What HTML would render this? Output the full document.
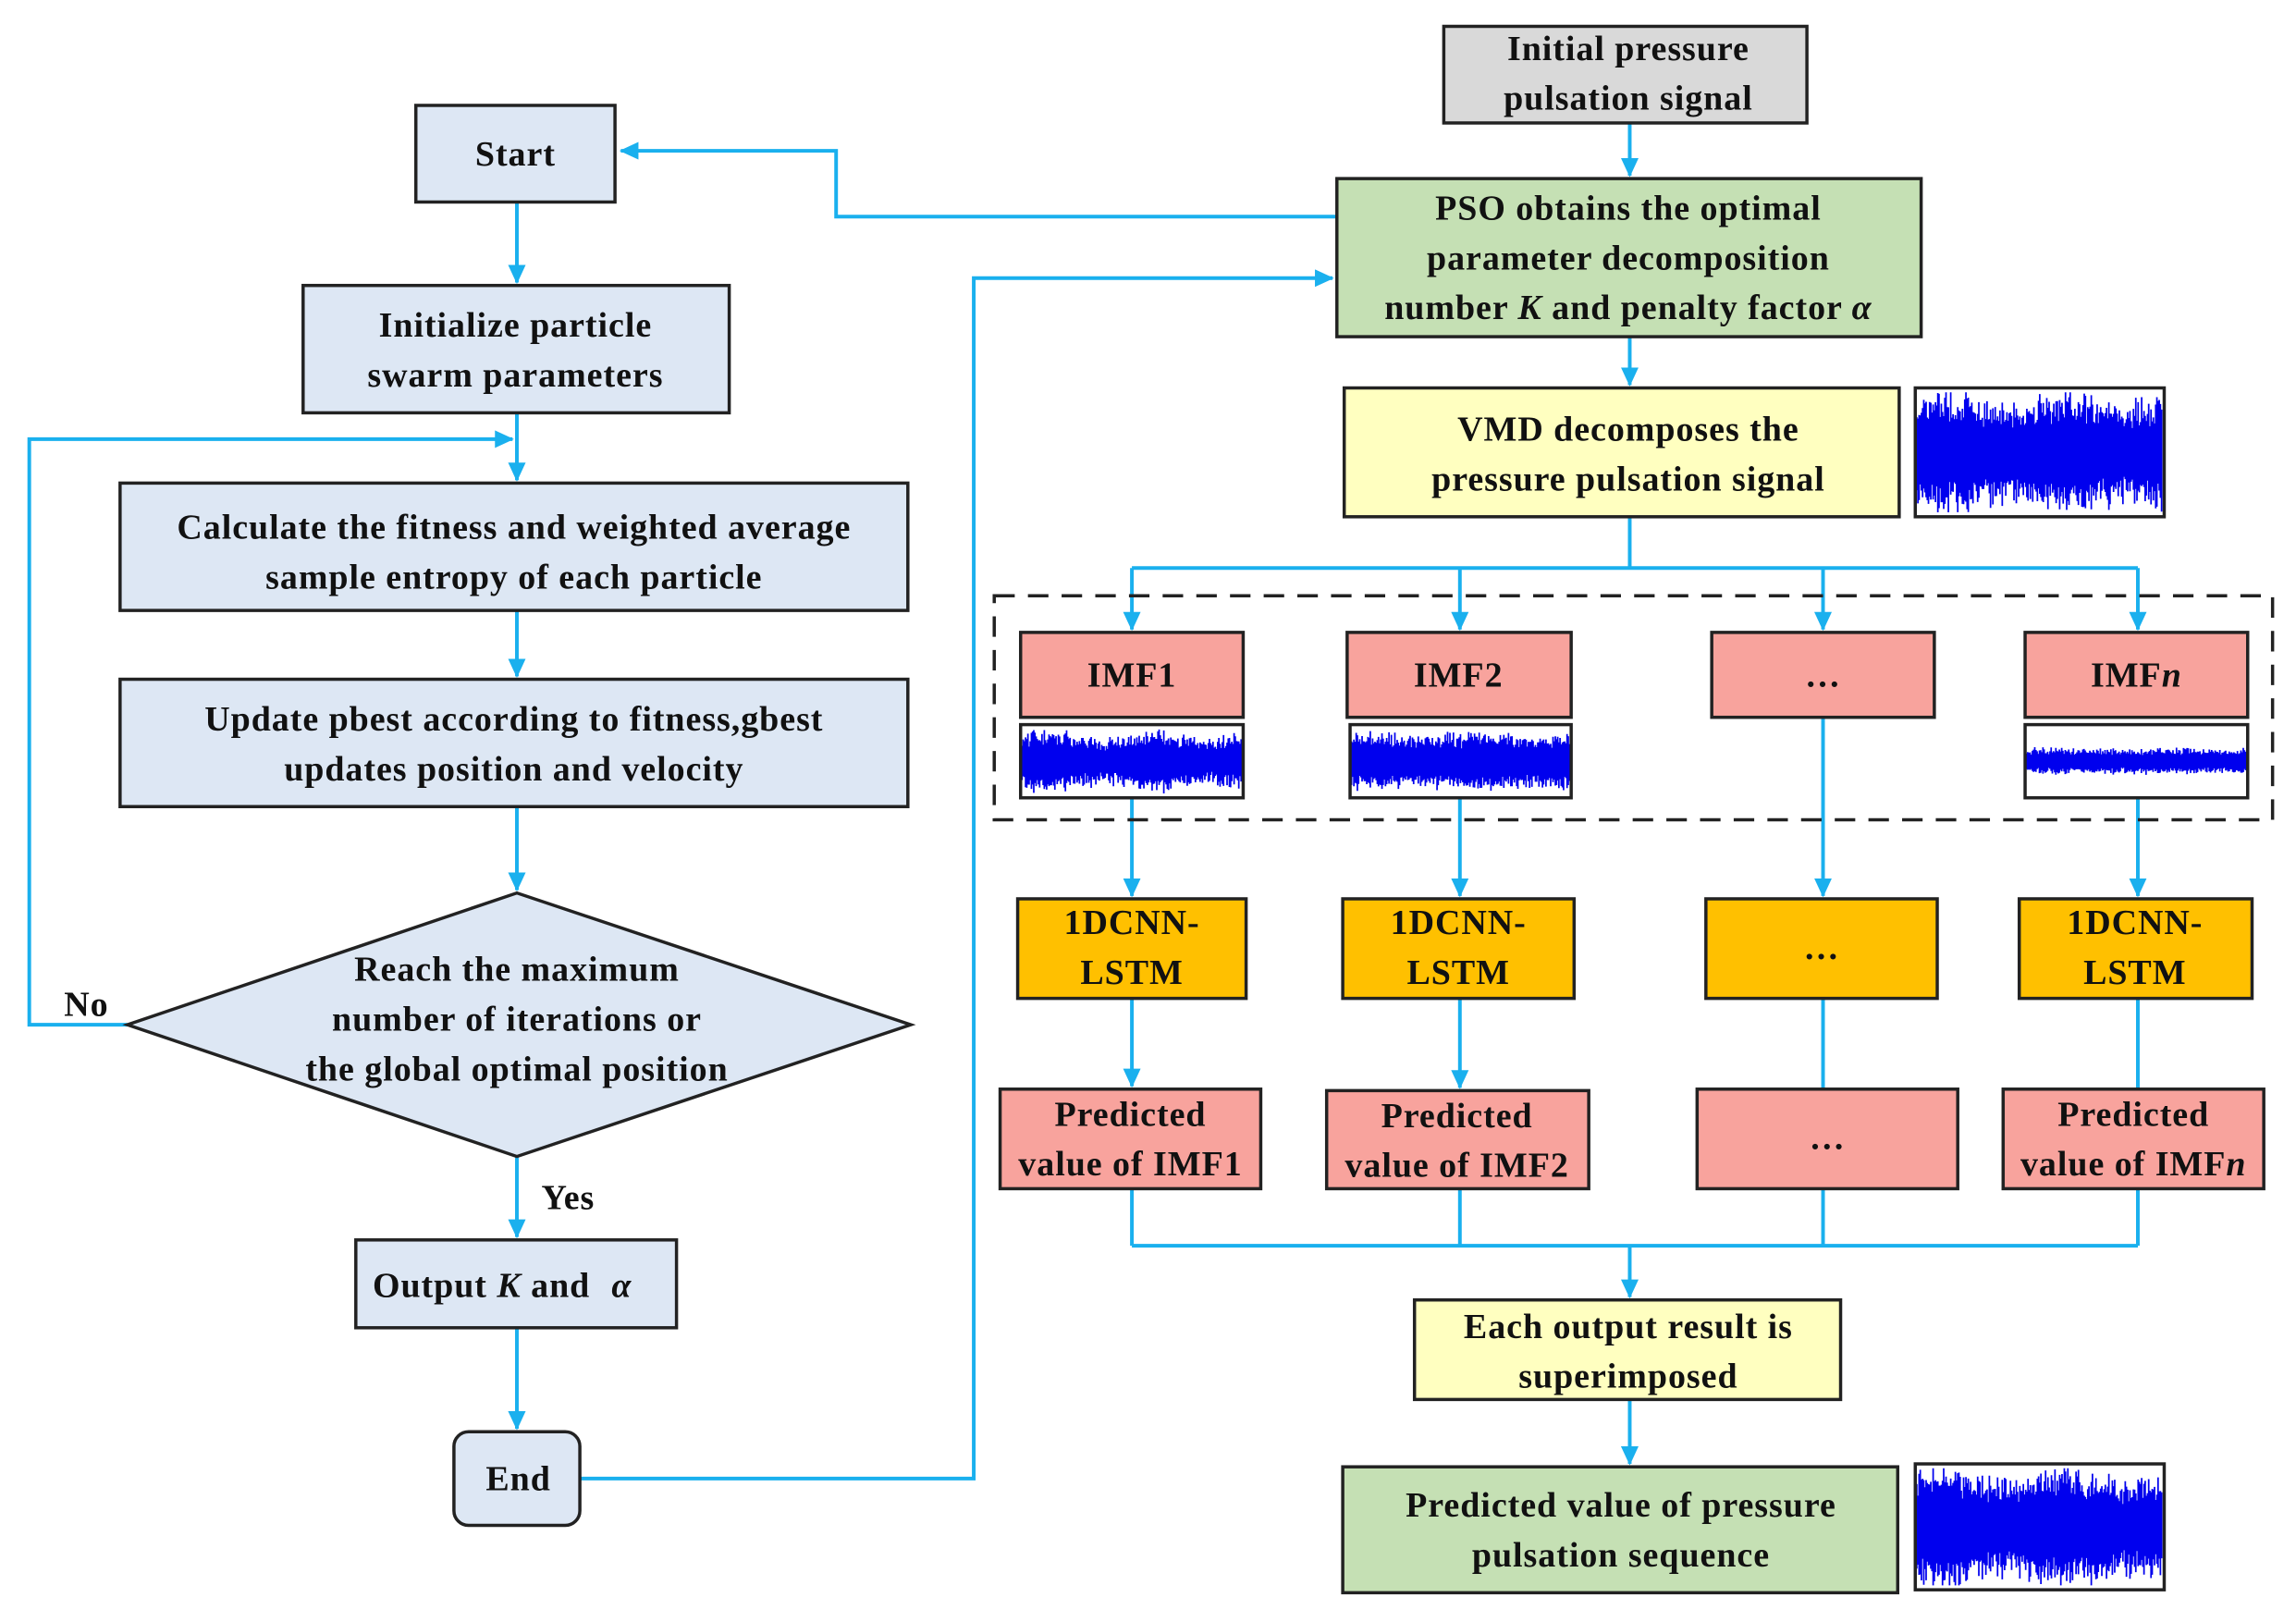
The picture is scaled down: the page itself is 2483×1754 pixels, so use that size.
<!DOCTYPE html>
<html><head><meta charset="utf-8"><style>
html,body{margin:0;padding:0;background:#fff;}
svg{display:block;}
text{font-family:"Liberation Serif",serif;font-weight:bold;font-size:24px;fill:#111;text-anchor:middle;letter-spacing:0.6px;}
</style></head><body>
<svg id="s" width="2483" height="1754" viewBox="0 0 1568 1108" preserveAspectRatio="none" xmlns="http://www.w3.org/2000/svg">
<defs>
<marker id="a" markerWidth="13" markerHeight="12" refX="12" refY="6" orient="auto" markerUnits="userSpaceOnUse">
<path d="M0,0 L13,6 L0,12 z" fill="#1ab0ee"/></marker>
</defs>
<g fill="none" stroke="#1ab0ee" stroke-width="2.5">
<path d="M353,138 V193" marker-end="url(#a)"/>
<path d="M353,282 V328" marker-end="url(#a)"/>
<path d="M87,700 H20 V300 H350" marker-end="url(#a)"/>
<path d="M353,417 V462" marker-end="url(#a)"/>
<path d="M353,551 V608" marker-end="url(#a)"/>
<path d="M353,790 V845" marker-end="url(#a)"/>
<path d="M353,907 V976" marker-end="url(#a)"/>
<path d="M396,1010 H665 V190 H910" marker-end="url(#a)"/>
<path d="M913,148 H571 V103 H424" marker-end="url(#a)"/>
<path d="M1113,84 V120" marker-end="url(#a)"/>
<path d="M1113,230 V263" marker-end="url(#a)"/>
<path d="M1113,353 V388 M773,388 H1460"/>
<path d="M773,388 V430" marker-end="url(#a)"/>
<path d="M997,388 V430" marker-end="url(#a)"/>
<path d="M1245,388 V430" marker-end="url(#a)"/>
<path d="M1460,388 V430" marker-end="url(#a)"/>
<path d="M773,545 V612" marker-end="url(#a)"/>
<path d="M997,545 V612" marker-end="url(#a)"/>
<path d="M1245,490 V612" marker-end="url(#a)"/>
<path d="M1460,545 V612" marker-end="url(#a)"/>
<path d="M773,682 V742" marker-end="url(#a)"/>
<path d="M997,682 V743" marker-end="url(#a)"/>
<path d="M1245,682 V744 M1460,682 V744"/>
<path d="M773,812 V851 M997,812 V851 M1245,812 V851 M1460,812 V851 M773,851 H1460"/>
<path d="M1113,851 V886" marker-end="url(#a)"/>
<path d="M1113,956 V1000" marker-end="url(#a)"/>
</g>
<rect x="679" y="407" width="873" height="153" fill="none" stroke="#222" stroke-width="2.2" stroke-dasharray="14,9"/>
<g stroke="#222" stroke-width="2.2">
<rect x="284" y="72" width="136" height="66" fill="#dde7f4"/>
<rect x="207" y="195" width="291" height="87" fill="#dde7f4"/>
<rect x="82" y="330" width="538" height="87" fill="#dde7f4"/>
<rect x="82" y="464" width="538" height="87" fill="#dde7f4"/>
<polygon points="87,700 353,610 622,700 353,790" fill="#dde7f4"/>
<rect x="243" y="847" width="219" height="60" fill="#dde7f4"/>
<rect x="310" y="978" width="86" height="64" rx="10" fill="#dde7f4"/>
<rect x="986" y="18" width="248" height="66" fill="#d9d9d9"/>
<rect x="913" y="122" width="399" height="108" fill="#c5e0b4"/>
<rect x="918" y="265" width="379" height="88" fill="#ffffc0"/>
<rect x="697" y="432" width="152" height="58" fill="#f8a39d"/>
<rect x="920" y="432" width="153" height="58" fill="#f8a39d"/>
<rect x="1169" y="432" width="152" height="58" fill="#f8a39d"/>
<rect x="1383" y="432" width="152" height="58" fill="#f8a39d"/>
<rect x="695" y="614" width="156" height="68" fill="#ffc000"/>
<rect x="917" y="614" width="158" height="68" fill="#ffc000"/>
<rect x="1165" y="614" width="158" height="68" fill="#ffc000"/>
<rect x="1379" y="614" width="159" height="68" fill="#ffc000"/>
<rect x="683" y="744" width="178" height="68" fill="#f8a39d"/>
<rect x="906" y="745" width="179" height="67" fill="#f8a39d"/>
<rect x="1159" y="744" width="178" height="68" fill="#f8a39d"/>
<rect x="1368" y="744" width="178" height="68" fill="#f8a39d"/>
<rect x="966" y="888" width="291" height="68" fill="#ffffc0"/>
<rect x="917" y="1002" width="379" height="86" fill="#c5e0b4"/>
</g>
<g id="waves"></g>
<g stroke="#222" stroke-width="2.2" fill="none">
<rect x="1308" y="265" width="170" height="88"/>
<rect x="697" y="495" width="152" height="50"/>
<rect x="922" y="495" width="151" height="50"/>
<rect x="1383" y="495" width="152" height="50"/>
<rect x="1308" y="1000" width="170" height="86"/>
</g>
<text x="352" y="113">Start</text>
<text x="352" y="230">Initialize particle</text>
<text x="352" y="264">swarm parameters</text>
<text x="351" y="368">Calculate the fitness and weighted average</text>
<text x="351" y="402">sample entropy of each particle</text>
<text x="351" y="499">Update pbest according to fitness,gbest</text>
<text x="351" y="533">updates position and velocity</text>
<text x="353" y="670">Reach the maximum</text>
<text x="353" y="704">number of iterations or</text>
<text x="353" y="738">the global optimal position</text>
<text x="59" y="694">No</text>
<text x="388" y="826">Yes</text>
<text x="343" y="886">Output <tspan font-style="italic">K</tspan> and <tspan font-style="italic" dx="8">α</tspan></text>
<text x="354" y="1018">End</text>
<text x="1112" y="41">Initial pressure</text>
<text x="1112" y="75">pulsation signal</text>
<text x="1112" y="150">PSO obtains the optimal</text>
<text x="1112" y="184">parameter decomposition</text>
<text x="1112" y="218">number <tspan font-style="italic">K</tspan> and penalty factor <tspan font-style="italic">α</tspan></text>
<text x="1112" y="301">VMD decomposes the</text>
<text x="1112" y="335">pressure pulsation signal</text>
<text x="773" y="469">IMF1</text>
<text x="996" y="469">IMF2</text>
<text x="1245" y="469">…</text>
<text x="1459" y="469">IMF<tspan font-style="italic">n</tspan></text>
<text x="773" y="638">1DCNN-</text><text x="773" y="672">LSTM</text>
<text x="996" y="638">1DCNN-</text><text x="996" y="672">LSTM</text>
<text x="1244" y="655">…</text>
<text x="1458" y="638">1DCNN-</text><text x="1458" y="672">LSTM</text>
<text x="772" y="769">Predicted</text><text x="772" y="803">value of IMF1</text>
<text x="995" y="770">Predicted</text><text x="995" y="804">value of IMF2</text>
<text x="1248" y="785">…</text>
<text x="1457" y="769">Predicted</text><text x="1457" y="803">value of IMF<tspan font-style="italic">n</tspan></text>
<text x="1112" y="914">Each output result is</text>
<text x="1112" y="948">superimposed</text>
<text x="1107" y="1036">Predicted value of pressure</text>
<text x="1107" y="1070">pulsation sequence</text>
</svg>
<script>
(function(){
var g=document.getElementById('waves');var ns='http://www.w3.org/2000/svg';
var seed=7;function r(){seed=(seed*9301+49297)%233280;return seed/233280;}
function wave(x,y,w,h,amp,base,mod){
 var d='';var cy=y+h/2;
 for(var i=0;i<=w;i+=0.8){
  var env=base+mod*Math.sin(i/w*Math.PI*4+r()*0.3);
  var a=amp*(env+0.35*r());
  var top=Math.max(y+2,cy-a*h/2*(0.6+0.4*r()));
  var bot=Math.min(y+h-2,cy+a*h/2*(0.6+0.4*r()));
  d+='M'+(x+i).toFixed(1)+','+top.toFixed(1)+'V'+bot.toFixed(1);
 }
 var p=document.createElementNS(ns,'path');p.setAttribute('d',d);
 p.setAttribute('stroke','#0000ee');p.setAttribute('stroke-width','1.1');p.setAttribute('fill','none');g.appendChild(p);
}
wave(1309,266,168,86,0.9,0.75,0.1);
wave(698,496,150,48,0.85,0.7,0.15);
wave(923,496,149,48,0.8,0.75,0.05);
wave(1384,496,150,48,0.35,0.8,0.05);
wave(1309,1001,168,84,0.9,0.75,0.1);
})();
</script>
</body></html>
